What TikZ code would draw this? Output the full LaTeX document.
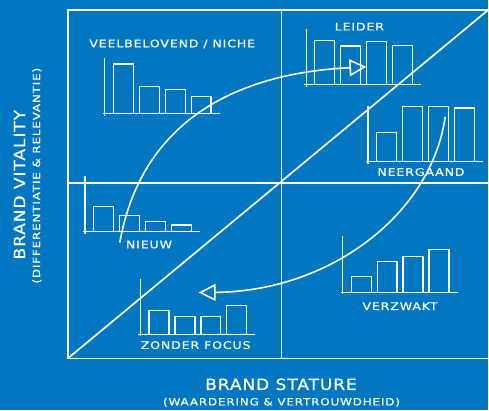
\documentclass[tikz,border=0pt]{standalone}
\usepackage{fontspec}
\usetikzlibrary{arrows.meta}
\newfontfamily\handfont[FakeStretch=1.2,LetterSpace=8,FakeBold=0.4]{DejaVu Sans}
\newfontfamily\titlefont[FakeStretch=1.1,LetterSpace=6,FakeBold=0.8]{DejaVu Sans}
\definecolor{print}{RGB}{0,119,192}

% bar chart: origin at the foot of the axis, then four bar heights
\newcommand\drawchart[6]{%
  \begin{scope}[shift={(#1,#2)}]
    \draw[barline] (0,-56) -- (0,2) (-2,0) -- (115,0);
    \foreach \o/\h in {8.5/#3,34.5/#4,60.5/#5,86.5/#6}
      \draw[barline] (\o,0) rectangle ({\o+20},-\h);
  \end{scope}}

\begin{document}
\begin{tikzpicture}[x=1pt,y=-1pt,
  frameline/.style={white, line width=1.7pt},
  barline/.style={white, line width=1.3pt, line join=round},
  flow/.style={white, line width=1.6pt, -{Triangle[open,length=17pt,width=17pt]}},
  tag/.style={text=white, font=\handfont\fontsize{10.5}{12}\selectfont, inner sep=0pt},
  axistitle/.style={text=white, font=\titlefont\fontsize{15.5}{17}\selectfont, inner sep=0pt},
  axissub/.style={text=white, font=\handfont\fontsize{10}{12}\selectfont, inner sep=0pt}]

  % background
  \fill[print] (0,0) rectangle (489,411);

  % quadrant frame
  \coordinate (tl) at (68,10);
  \coordinate (bl) at (68,359);
  \coordinate (tr) at (489,10);
  \coordinate (br) at (489,359);
  \coordinate (ml) at (68,183);
  \coordinate (mr) at (489,183);
  \coordinate (mt) at (282,10);
  \coordinate (mb) at (282,359);
  \draw[frameline] (tr) -- (tl) -- (bl) -- (br);
  \draw[frameline] (ml) -- (mr);
  \draw[frameline] (mt) -- (mb);
  \draw[frameline] (bl) -- (tr);

  % bar charts
  \drawchart{105}{114}{50}{27.3}{24}{17.3}
  \drawchart{306.7}{85}{44.3}{39}{43.7}{39.7}
  \drawchart{368.7}{162}{29.3}{55.3}{55.3}{53.7}
  \drawchart{85}{232}{25.3}{16}{10.3}{6.7}
  \drawchart{140.7}{335}{24.3}{17.7}{17.7}{29}
  \drawchart{343.3}{292.7}{15.4}{31}{36}{42.7}

  % quadrant labels
  \node[tag] (niche) at (172.5,44) {VEELBELOVEND / NICHE};
  \node[tag] (leider) at (360,26.7) {LEIDER};
  \node[tag] (neergaand) at (421.7,172.3) {NEERGAAND};
  \node[tag] (nieuw) at (149.3,245) {NIEUW};
  \node[tag] (zonder) at (196,345.7) {ZONDER FOCUS};
  \node[tag] (verzwakt) at (400.7,306.7) {VERZWAKT};

  % axis titles
  \node[axistitle, rotate=90] (vitality) at (19.5,185) {BRAND VITALITY};
  \node[axissub, rotate=90] (vitalitysub) at (37,176) {(DIFFERENTIATIE \& RELEVANTIE)};
  \node[axistitle] (stature) at (281.5,385) {BRAND STATURE};
  \node[axissub] (staturesub) at (282,403) {(WAARDERING \& VERTROUWDHEID)};

  % growth and decline paths
  \coordinate (risefrom) at (120,243);
  \coordinate (riseto) at (367,67);
  \coordinate (fallfrom) at (446,117);
  \coordinate (fallto) at (199,293);
  \draw[flow] (risefrom) .. controls (140,130) and (225,74) .. (riseto);
  \draw[flow] (fallfrom) .. controls (432,215) and (330,292) .. (fallto);
\end{tikzpicture}
\end{document}
